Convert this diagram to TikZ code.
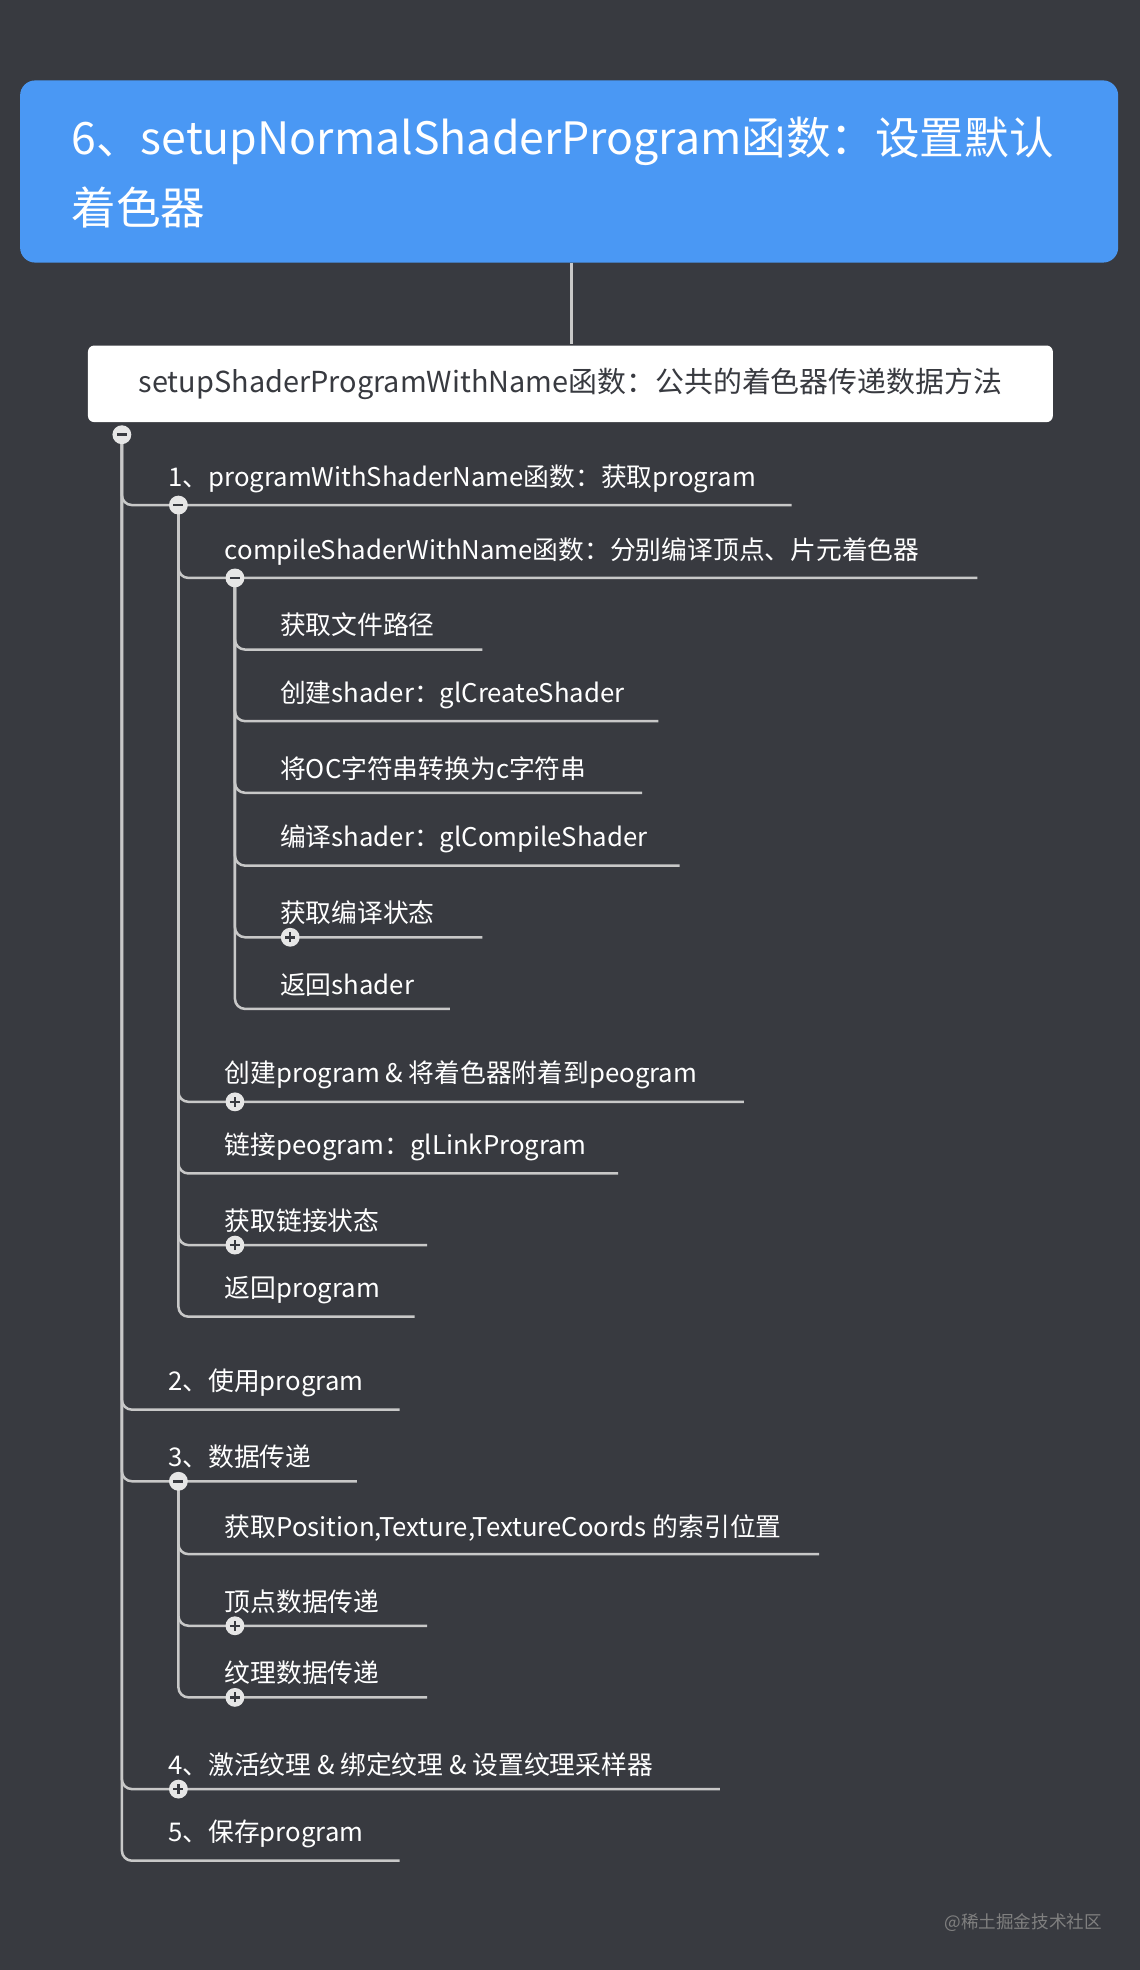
\documentclass[tikz,border=0pt]{standalone}
\usepackage{fontspec}
\setmainfont{Noto Sans CJK SC}
\definecolor{bgc}{RGB}{56,58,64}
\definecolor{titleblue}{RGB}{74,152,244}
\definecolor{linec}{RGB}{200,200,200}
\definecolor{markc}{RGB}{230,230,230}
\tikzset{every picture/.style={line width=2pt}}
\tikzset{
  branch/.style={draw=linec,rounded corners=8pt},
  itemtext/.style={anchor=south west,inner sep=0pt,text=white,font=\fontsize{20.5}{24}\selectfont},
  fold/.style={circle,fill=markc,draw=none,minimum size=15pt,inner sep=0pt},
}
\newcommand{\minusmark}[1]{\draw[bgc,line width=2pt] ([xshift=-4pt]#1.center) -- ([xshift=4pt]#1.center);}
\newcommand{\plusmark}[1]{\minusmark{#1}\draw[bgc,line width=2pt] ([yshift=-4pt]#1.center) -- ([yshift=4pt]#1.center);}
\begin{document}
\begin{tikzpicture}[x=1pt,y=-1pt]
\fill[bgc] (0,0) rectangle (907,1568);
\useasboundingbox (0,0) rectangle (907,1568);

% title and root
\fill[titleblue,rounded corners=12pt] (16,64) rectangle (890,209);
\node[anchor=north west,inner sep=0pt,text=white,align=left,font=\fontsize{35.5}{56}\selectfont] (title) at (56,92) {6、setupNormalShaderProgram函数：设置默认\\着色器};
\coordinate (titlebot) at (455,209);
\node[fill=white,rounded corners=5pt,minimum width=768pt,minimum height=61pt,anchor=north west,font=\fontsize{23}{27}\selectfont,text=bgc] (root) at (69,274) {setupShaderProgramWithName函数：公共的着色器传递数据方法};
\draw[linec] (titlebot) -- (root.north -| titlebot);

% level 1
\coordinate (fa) at (97,346);
\foreach \y/\e/\t [count=\i] in {402/630/{1、programWithShaderName函数：获取program},1122/318/{2、使用program},1179/284/{3、数据传递},1424/573/{4、激活纹理 \& 绑定纹理 \& 设置纹理采样器},1481/318/{5、保存program}}{
  \coordinate (la\i) at (\e,\y);
  \draw[branch] (fa) |- (la\i);
  \node[itemtext] (ta\i) at (133,\y-9) {\t};
}

% level 2 under item 1
\coordinate (fb) at (142,402);
\foreach \y/\e/\t [count=\i] in {460/778/{compileShaderWithName函数：分别编译顶点、片元着色器},877/592/{创建program \& 将着色器附着到peogram},934/492/{链接peogram：glLinkProgram},991/340/{获取链接状态},1048/330/{返回program}}{
  \coordinate (lb\i) at (\e,\y);
  \draw[branch] (fb) |- (lb\i);
  \node[itemtext] (tb\i) at (178,\y-9) {\t};
}

% level 3 under compileShaderWithName
\coordinate (fc) at (187,460);
\foreach \y/\e/\t [count=\i] in {517/384/{获取文件路径},574/524/{创建shader：glCreateShader},631/511/{将OC字符串转换为c字符串},689/541/{编译shader：glCompileShader},746/384/{获取编译状态},803/358/{返回shader}}{
  \coordinate (lc\i) at (\e,\y);
  \draw[branch] (fc) |- (lc\i);
  \node[itemtext] (tc\i) at (222,\y-9) {\t};
}

% level 2 under item 3
\coordinate (fd) at (142,1179);
\foreach \y/\e/\t [count=\i] in {1237/652/{获取Position,Texture,TextureCoords 的索引位置},1294/340/{顶点数据传递},1351/340/{纹理数据传递}}{
  \coordinate (ld\i) at (\e,\y);
  \draw[branch] (fd) |- (ld\i);
  \node[itemtext] (td\i) at (178,\y-9) {\t};
}

% fold markers
\foreach \n/\p in {ma/fa,mb/fb,mc/fc,md/fd}{
  \node[fold] (\n) at (\p) {};
  \minusmark{\n}
}
\foreach \n/\x/\y in {pa/231/746,pb/187/877,pc/187/991,pd/187/1294,pe/187/1351,pf/142/1424}{
  \node[fold] (\n) at (\x,\y) {};
  \plusmark{\n}
}

\node[anchor=east,inner sep=0pt,text=gray,font=\fontsize{14}{16}\selectfont] (mark) at (878,1530) {@稀土掘金技术社区};
\end{tikzpicture}
\end{document}
